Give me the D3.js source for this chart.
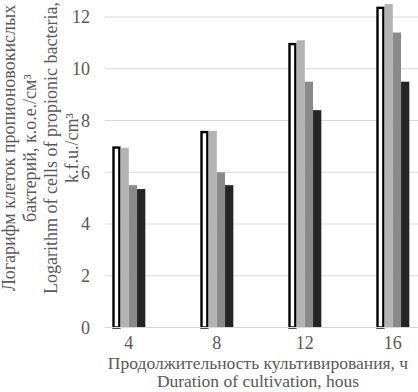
<!DOCTYPE html>
<html>
<head>
<meta charset="utf-8">
<script src="https://cdn.jsdelivr.net/npm/d3@7"></script>
<style>
  body { margin: 0; background: #fff; }
  svg { display: block; }
</style>
</head>
<body>
<div id="chart"></div>
<script>
// Data
const hours = ["4", "8", "12", "16"];
const seriesNames = ["s1", "s2", "s3", "s4"];
const s1 = [7.0, 7.6, 11.0, 12.4];
const s2 = [6.95, 7.6, 11.1, 12.5];
const s3 = [5.5, 6.0, 9.5, 11.4];
const s4 = [5.35, 5.5, 8.4, 9.5];
const yTicks = [0, 2, 4, 6, 8, 10, 12];

const seriesFill = ["#ffffff", "#b3b3b3", "#8a8a8a", "#242424"];

const width = 418, height = 392;
const plotLeft = 105, plotTop = 17, plotBottom = 327.5;

const svg = d3.select("#chart").append("svg")
  .attr("width", width)
  .attr("height", height);

const y = d3.scaleLinear().domain([0, 12]).range([plotBottom, plotTop]);

// category bands: step ~88px, bar group ~33px
const x0 = d3.scaleBand()
  .domain(hours)
  .range([57.3, 464.3])
  .paddingInner(0.625)
  .paddingOuter(0.625);

const x1 = d3.scaleBand()
  .domain(seriesNames)
  .range([0, x0.bandwidth()]);

// gridlines
svg.append("g").selectAll("line")
  .data(yTicks.filter(d => d > 0))
  .enter().append("line")
  .attr("x1", plotLeft).attr("x2", width)
  .attr("y1", d => y(d)).attr("y2", d => y(d))
  .attr("stroke", "#d9d9d9")
  .attr("stroke-width", 1.2);

const rows = hours.map((h, i) => ({
  h,
  vals: [s1[i], s2[i], s3[i], s4[i]]
}));

const groups = svg.append("g").selectAll("g")
  .data(rows)
  .enter().append("g")
  .attr("transform", d => `translate(${x0(d.h)},0)`);

groups.selectAll("rect")
  .data(d => d.vals.map((v, j) => ({ key: seriesNames[j], v, j })))
  .enter().append("rect")
  .attr("x", d => x1(d.key) + (d.j === 0 ? 1.2 : 0))
  .attr("width", d => x1.bandwidth() - (d.j === 0 ? 2.4 : 0))
  .attr("y", d => y(d.v) + (d.j === 0 ? 1.2 : 0))
  .attr("height", d => plotBottom - y(d.v) - (d.j === 0 ? 1.2 : 0))
  .attr("fill", d => seriesFill[d.j])
  .attr("stroke", d => d.j === 0 ? "#000" : "none")
  .attr("stroke-width", 2.4);

// baseline
svg.append("line")
  .attr("x1", plotLeft).attr("x2", width)
  .attr("y1", plotBottom).attr("y2", plotBottom)
  .attr("stroke", "#d9d9d9")
  .attr("stroke-width", 1.2);

// y tick labels
svg.append("g").selectAll("text")
  .data(yTicks)
  .enter().append("text")
  .attr("x", 90)
  .attr("y", d => y(d))
  .attr("dy", "0.35em")
  .attr("text-anchor", "end")
  .attr("fill", "#595959")
  .style("font-family", "'Liberation Serif', serif")
  .style("font-size", "18px")
  .text(d => d);

// x tick labels
svg.append("g").selectAll("text")
  .data(hours)
  .enter().append("text")
  .attr("x", d => x0(d) + x0.bandwidth() / 2)
  .attr("y", 349)
  .attr("text-anchor", "middle")
  .attr("fill", "#595959")
  .style("font-family", "'Liberation Serif', serif")
  .style("font-size", "18px")
  .text(d => d);

// x axis title
const xTitle = ["Продолжительность культивирования, ч", "Duration of cultivation, hous"];
svg.append("g").selectAll("text")
  .data(xTitle)
  .enter().append("text")
  .attr("x", 258)
  .attr("y", (d, i) => 369 + i * 18)
  .attr("text-anchor", "middle")
  .attr("fill", "#595959")
  .style("font-family", "'Liberation Serif', serif")
  .style("font-size", "17.5px")
  .text(d => d);

// y axis title (rotated)
const yTitle = [
  "Логарифм клеток пропионовокислых",
  "бактерий, к.о.е./см³",
  "Logarithm of cells of propionic bacteria,",
  "k.f.u./cm³"
];
svg.append("g")
  .attr("transform", "translate(0,148) rotate(-90)")
  .selectAll("text")
  .data(yTitle)
  .enter().append("text")
  .attr("x", 0)
  .attr("y", (d, i) => 15 + i * 21)
  .attr("text-anchor", "middle")
  .attr("fill", "#595959")
  .style("font-family", "'Liberation Serif', serif")
  .style("font-size", "18px")
  .text(d => d);
</script>
</body>
</html>
